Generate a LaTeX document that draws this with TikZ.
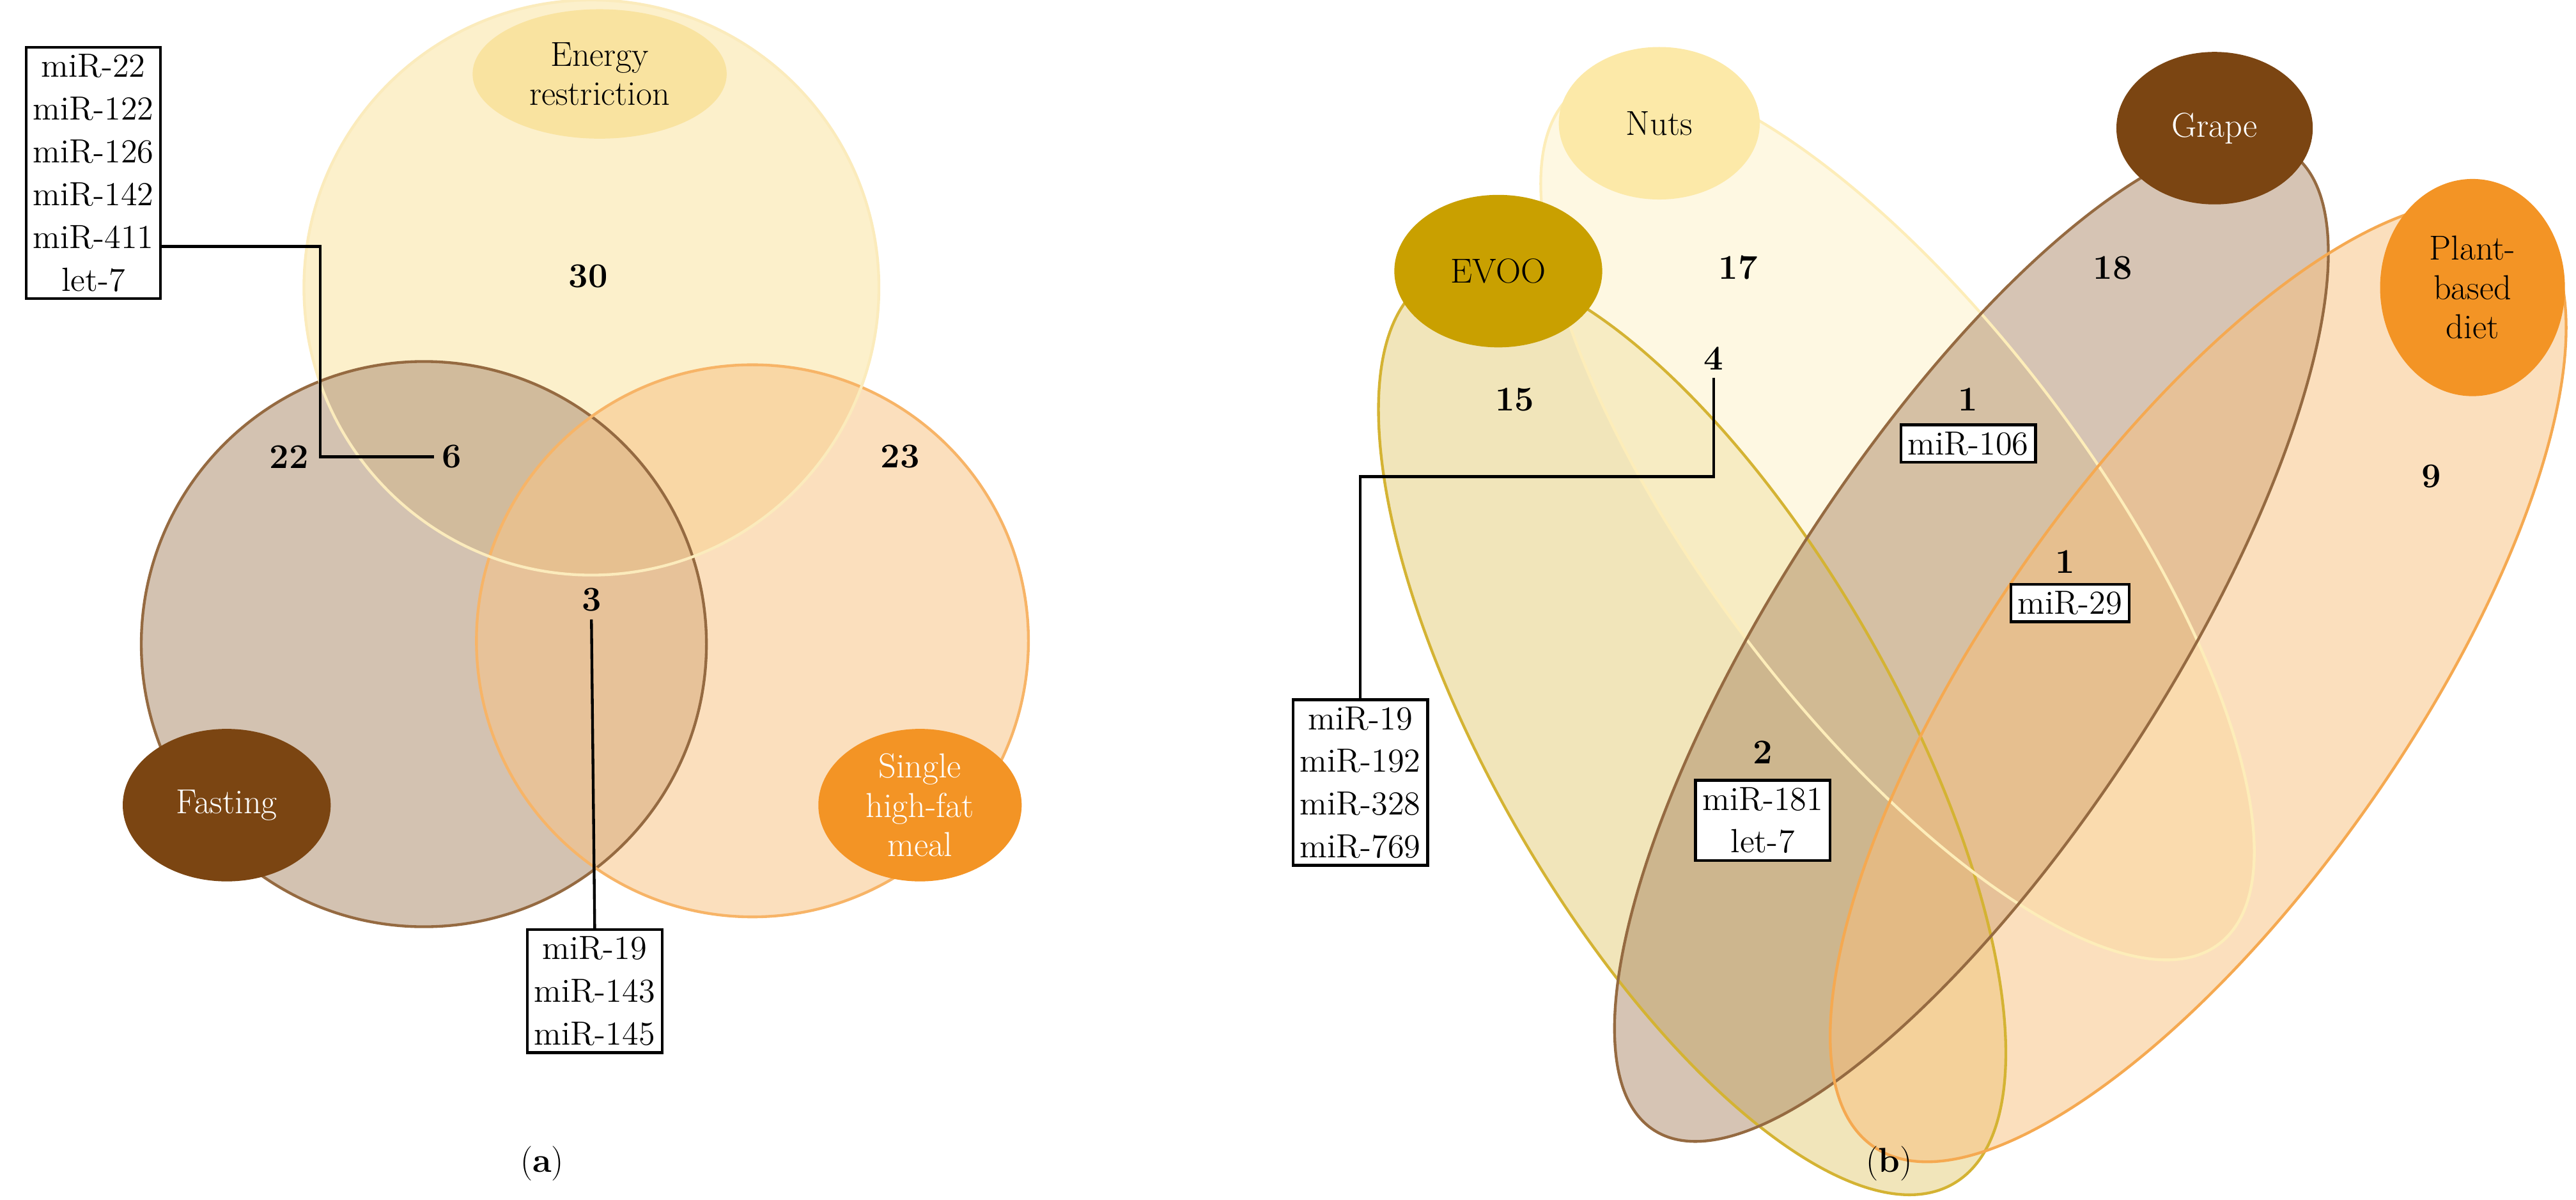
\documentclass[tikz,border=0pt]{standalone}
\usetikzlibrary{shapes.geometric}
\definecolor{enY}{HTML}{F9E3A0}
\definecolor{brn}{HTML}{7B4512}
\definecolor{org}{HTML}{F39425}
\definecolor{gold}{HTML}{C9A000}
\definecolor{nutY}{HTML}{FCE9A8}
\begin{document}
\begin{tikzpicture}[x=0.025cm,y=-0.025cm,
  txt/.style={font=\fontsize{15}{18}\selectfont},
  num/.style={font=\fontsize{15}{18}\selectfont\bfseries},
  lbl/.style={ellipse,inner sep=0pt,align=center,font=\fontsize{15}{17}\selectfont},
  mbox/.style={draw,line width=1.2pt,fill=white,align=center,inner sep=3pt,font=\fontsize{14.5}{18.5}\selectfont},
  conn/.style={line width=1.2pt}]
\useasboundingbox (0,0) rectangle (1568,730);
% Panel a
\fill[enY,fill opacity=0.55] (360,175) circle (175);
\fill[brn!55!white,fill opacity=0.6] (258,392) circle (172);
\fill[org!55!white,fill opacity=0.55] (458,390) circle (168);
\draw[brn!80!white,line width=1.2pt] (258,392) circle (172);
\draw[org!70!white,line width=1.2pt] (458,390) circle (168);
\draw[enY!70!white,line width=1.2pt] (360,175) circle (175);
\node[lbl,fill=enY,minimum width=110,minimum height=56] (er) at (365,45) {Energy\\restriction};
\node[lbl,fill=brn,text=white,minimum width=90,minimum height=66] (fa) at (138,490) {Fasting};
\node[lbl,fill=org,text=white,minimum width=88,minimum height=66] (sh) at (560,490) {Single\\high-fat\\meal};
\node[num] (n30) at (358,168) {30};
\node[num] (n22) at (176,278) {22};
\node[num] (n6) at (275,278) {6};
\node[num] (n23) at (548,278) {23};
\node[num] (n3) at (360,365) {3};
\node[mbox,anchor=north west] (ba) at (15,28) {miR-22\\miR-122\\miR-126\\miR-142\\miR-411\\let-7};
\node[mbox,anchor=north] (bb) at (362,565) {miR-19\\miR-143\\miR-145};
\draw[conn] (ba.east|-0,150) -- (195,150) -- (195,278) -- (n6.west);
\draw[conn] (n3.south) -- (bb.north);
\node[txt] (la) at (330,708) {(\textbf{a})};
% Panel b
\fill[gold!45!white,fill opacity=0.6,rotate around={-60:(1030,445)}] (1030,445) ellipse (318 and 122);
\fill[nutY!60!white,fill opacity=0.55,rotate around={-53:(1155,315)}] (1155,315) ellipse (325 and 118);
\fill[brn!70!white,fill opacity=0.45,rotate around={57:(1200,390)}] (1200,390) ellipse (355 and 118);
\fill[org!60!white,fill opacity=0.5,rotate around={55:(1338,415)}] (1338,415) ellipse (345 and 128);
\draw[gold!80!white,line width=1.2pt,rotate around={-60:(1030,445)}] (1030,445) ellipse (318 and 122);
\draw[nutY!80!white,line width=1.2pt,rotate around={-53:(1155,315)}] (1155,315) ellipse (325 and 118);
\draw[brn!80!white,line width=1.2pt,rotate around={57:(1200,390)}] (1200,390) ellipse (355 and 118);
\draw[org!80!white,line width=1.2pt,rotate around={55:(1338,415)}] (1338,415) ellipse (345 and 128);
\node[lbl,fill=nutY,minimum width=87,minimum height=66] (nu) at (1010,75) {Nuts};
\node[lbl,fill=brn,text=white,minimum width=85,minimum height=66] (gr) at (1348,78) {Grape};
\node[lbl,fill=gold,minimum width=90,minimum height=66] (ev) at (912,165) {EVOO};
\node[lbl,fill=org,minimum width=80,minimum height=94] (pb) at (1505,175) {Plant-\\based\\diet};
\node[num] (m17) at (1058,163) {17};
\node[num] (m18) at (1286,163) {18};
\node[num] (m15) at (922,243) {15};
\node[num] (m4) at (1043,218) {4};
\node[num] (m1a) at (1198,243) {1};
\node[num] (m1b) at (1257,342) {1};
\node[num] (m9) at (1480,290) {9};
\node[num] (m2) at (1073,458) {2};
\node[mbox] (b106) at (1198,270) {miR-106};
\node[mbox] (b29) at (1260,367) {miR-29};
\node[mbox,anchor=north] (b181) at (1073,474) {miR-181\\let-7};
\node[mbox,anchor=north] (b19) at (828,425) {miR-19\\miR-192\\miR-328\\miR-769};
\draw[conn] (m4.south) -- (1043,290) -- (828,290) -- (b19.north);
\node[txt] (lb) at (1150,708) {(\textbf{b})};
\end{tikzpicture}
\end{document}
